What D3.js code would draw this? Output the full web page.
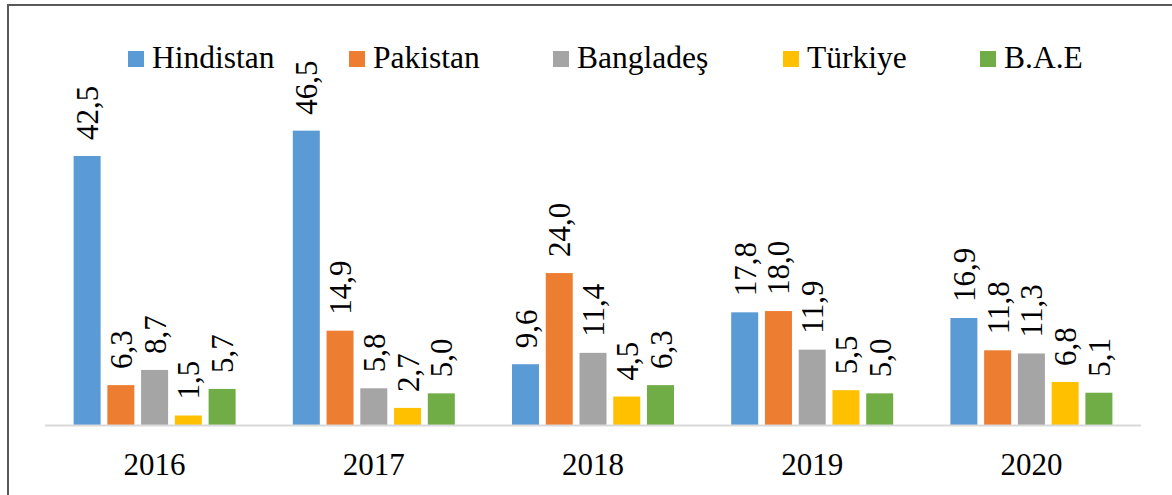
<!DOCTYPE html>
<html>
<head>
<meta charset="utf-8">
<script src="https://cdn.jsdelivr.net/npm/d3@7"></script>
<style>
  body { margin: 0; background: #fff; }
</style>
</head>
<body>
<script>
// veriler
const years = ["2016", "2017", "2018", "2019", "2020"];
const countries = ["Hindistan", "Pakistan", "Bangladeş", "Türkiye", "B.A.E"];
const colors = ["#5B9BD5", "#ED7D31", "#A5A5A5", "#FFC000", "#70AD47"];
const hindistan = [42.5, 46.5, 9.6, 17.8, 16.9];
const pakistan = [6.3, 14.9, 24.0, 18.0, 11.8];
const banglades = [8.7, 5.8, 11.4, 11.9, 11.3];
const turkiye = [1.5, 2.7, 4.5, 5.5, 6.8];
const bae = [5.7, 5.0, 6.3, 5.0, 5.1];
const series = [hindistan, pakistan, banglades, turkiye, bae];

const serif = "Liberation Serif";
const width = 1172, height = 495;
const svg = d3.select("body").append("svg")
    .attr("width", width)
    .attr("height", height)
    .attr("font-family", serif);

// cerceve
svg.append("rect")
    .attr("x", 8).attr("y", 5)
    .attr("width", 1200).attr("height", 520)
    .attr("fill", "none")
    .attr("stroke", "#595959")
    .attr("stroke-width", 2);

const x0 = d3.scaleBand().domain(years).range([45, 1141]);
const x1 = d3.scaleBand().domain(countries)
    .range([28.6, x0.bandwidth() - 28.6])
    .paddingInner(0.2);
const y = d3.scaleLinear().domain([0, 50]).range([425, 108.5]);

const fmt = v => d3.format(".1f")(v).replace(".", ",");

const groups = svg.selectAll("g.year").data(years).enter().append("g")
    .attr("class", "year")
    .attr("transform", d => `translate(${x0(d)},0)`);

groups.selectAll("rect").data((d, i) => countries.map((c, j) => ({ c, j, v: series[j][i] })))
    .enter().append("rect")
    .attr("x", d => x1(d.c))
    .attr("y", d => y(d.v))
    .attr("width", x1.bandwidth())
    .attr("height", d => y(0) - y(d.v))
    .attr("fill", d => colors[d.j]);

// degerler (dikey)
groups.selectAll("text.val").data((d, i) => countries.map((c, j) => ({ c, j, v: series[j][i] })))
    .enter().append("text")
    .attr("class", "val")
    .attr("transform", d => `translate(${x1(d.c) + x1.bandwidth() / 2 + 11},${y(d.v) - 16}) rotate(-90)`)
    .attr("font-family", serif)
    .attr("font-size", 31)
    .attr("fill", "#000")
    .text(d => fmt(d.v));

// eksen
svg.append("line")
    .attr("x1", 45).attr("x2", 1141)
    .attr("y1", 425.5).attr("y2", 425.5)
    .attr("stroke", "#d9d9d9")
    .attr("stroke-width", 2);

svg.selectAll("text.yearlbl").data(years).enter().append("text")
    .attr("class", "yearlbl")
    .attr("x", d => x0(d) + x0.bandwidth() / 2)
    .attr("y", 475)
    .attr("text-anchor", "middle")
    .attr("font-family", serif)
    .attr("font-size", 31)
    .attr("fill", "#000")
    .text(d => d);

// lejant
const legendX = [128, 349, 553, 783, 980];
const legend = svg.selectAll("g.legend").data(countries).enter().append("g")
    .attr("class", "legend")
    .attr("transform", (d, i) => `translate(${legendX[i]},51)`);
legend.append("rect")
    .attr("width", 16).attr("height", 16)
    .attr("fill", (d, i) => colors[i]);
legend.append("text")
    .attr("x", 24).attr("y", 17)
    .attr("font-family", serif)
    .attr("font-size", 31.5)
    .attr("fill", "#000")
    .text(d => d);
</script>
</body>
</html>
